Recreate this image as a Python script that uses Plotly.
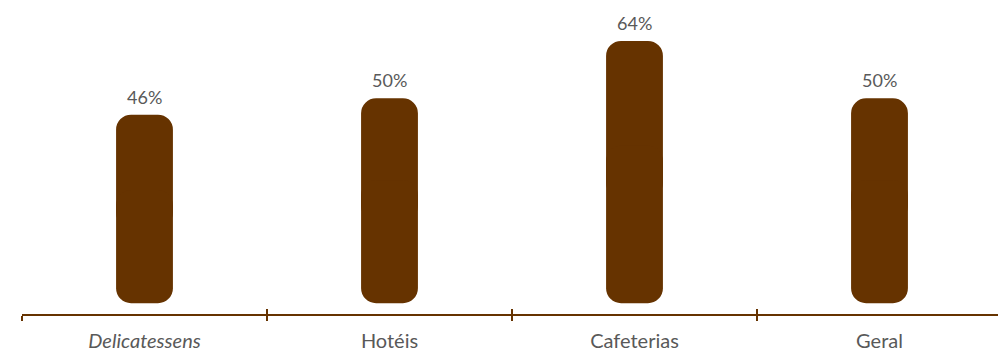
import plotly.graph_objects as go

# Share of establishments per segment (%)
categories = ["Delicatessens", "Hotéis", "Cafeterias", "Geral"]
tick_labels = ["<i>Delicatessens</i>", "Hotéis", "Cafeterias", "Geral"]
values = [46, 50, 64, 50]
value_labels = ["46%", "50%", "64%", "50%"]

BROWN = "#663300"
GREY = "#595959"
FONT = "Lato"
BAR_W = 0.232
RADIUS = 15

# Each bar is drawn as two overlapping halves so both ends get rounded:
# an upper half growing upward and a lower half growing downward to zero.
upper_base = [v * 0.4 for v in values]
upper_len = [v - b for v, b in zip(values, upper_base)]
lower_base = [v * 0.6 for v in values]
lower_len = [-b for b in lower_base]

fig = go.Figure()
fig.add_trace(go.Bar(
    x=categories, y=upper_len, base=upper_base, width=BAR_W,
    marker=dict(color=BROWN, cornerradius=RADIUS, line=dict(width=0)),
    xaxis="x", yaxis="y", hoverinfo="skip", showlegend=False,
))
fig.add_trace(go.Bar(
    x=categories, y=lower_len, base=lower_base, width=BAR_W,
    marker=dict(color=BROWN, cornerradius=RADIUS, line=dict(width=0)),
    xaxis="x2", yaxis="y", hoverinfo="skip", showlegend=False,
))

for c, v, t in zip(categories, values, value_labels):
    fig.add_annotation(
        x=c, y=v, xref="x", yref="y", text=t, showarrow=False,
        yanchor="bottom", yshift=5,
        font=dict(family=FONT, size=18, color=GREY),
    )

x_range = [-0.5, -0.5 + 976 / 245]
common = dict(
    type="category", categoryorder="array", categoryarray=categories,
    range=x_range, tickson="boundaries", ticklen=5, tickwidth=2,
    tickcolor=BROWN, showgrid=False, zeroline=False,
)
fig.update_layout(
    width=998, height=353,
    margin=dict(l=22, r=0, t=0, b=39),
    paper_bgcolor="white", plot_bgcolor="white",
    barmode="overlay",
    xaxis=dict(
        **common, ticks="outside", showline=True, linecolor=BROWN, linewidth=2,
        tickmode="array", tickvals=categories, ticktext=tick_labels,
        tickfont=dict(family=FONT, size=20, color=GREY),
        ticklabelstandoff=8,
    ),
    xaxis2=dict(
        **common, ticks="inside", overlaying="x", anchor="y", side="bottom",
        showline=False, showticklabels=False,
    ),
    yaxis=dict(range=[-2.64, 74.0], visible=False, showgrid=False, zeroline=False),
)

fig.write_html("out.html")
